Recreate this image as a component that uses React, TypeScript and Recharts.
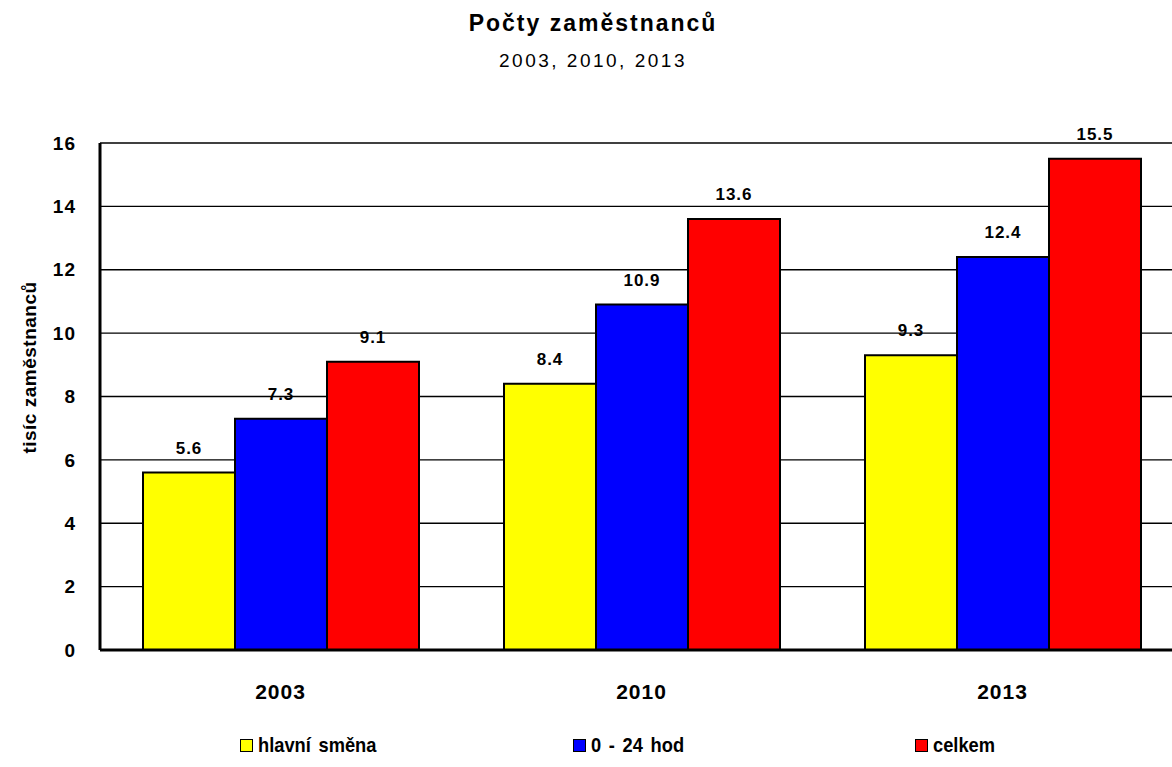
// Počty zaměstnanců — grouped bar chart, 2003 / 2010 / 2013

import { BarChart, Bar, XAxis, YAxis, CartesianGrid, Legend, LabelList } from 'recharts';

// ── Data ──────────────────────────────────────────────────────────────────────
const YEARS = ['2003', '2010', '2013'];
const HLAVNI_SMENA = [5.6, 8.4, 9.3];
const NONSTOP = [7.3, 10.9, 12.4];
const CELKEM = [9.1, 13.6, 15.5];
const Y_TICKS = [0, 2, 4, 6, 8, 10, 12, 14, 16];

const SERIES = [
  { key: 'hlavni', name: 'hlavní směna', color: '#ffff00' },
  { key: 'nonstop', name: '0 - 24 hod', color: '#0000ff' },
  { key: 'celkem', name: 'celkem', color: '#ff0000' },
];

const data = YEARS.map((year, i) => ({
  year,
  hlavni: HLAVNI_SMENA[i],
  nonstop: NONSTOP[i],
  celkem: CELKEM[i],
}));

const FONT = "Arial, 'Liberation Sans', sans-serif";

// legend item left positions (px from chart left)
const LEGEND_X = [240, 573, 915];

function ChartLegend() {
  return (
    <div style={{ position: 'relative', height: 24 }}>
      {SERIES.map((s, i) => (
        <div
          key={s.key}
          style={{
            position: 'absolute',
            left: LEGEND_X[i],
            top: 0,
            display: 'flex',
            alignItems: 'center',
            color: '#000',
            whiteSpace: 'nowrap',
          }}
        >
          <span
            style={{
              display: 'inline-block',
              width: 11,
              height: 11,
              background: s.color,
              border: '1px solid #000',
              marginRight: 5,
            }}
          />
          <span
            style={{
              display: 'inline-block',
              fontFamily: FONT,
              fontWeight: 'bold',
              fontSize: 21,
              wordSpacing: 3,
              transform: 'scaleX(0.87)',
              transformOrigin: 'left center',
            }}
          >
            {s.name}
          </span>
        </div>
      ))}
    </div>
  );
}

export default function App() {
  return (
    <div
      style={{
        position: 'absolute',
        left: 0,
        top: 0,
        width: 1172,
        height: 767,
        overflow: 'hidden',
        background: '#fff',
      }}
    >
      <div
        style={{
          position: 'absolute',
          left: 0,
          width: 1186,
          top: 10,
          textAlign: 'center',
          fontFamily: FONT,
          fontWeight: 'bold',
          fontSize: 23,
          letterSpacing: 2,
          color: '#000',
        }}
      >
        Počty zaměstnanců
      </div>
      <div
        style={{
          position: 'absolute',
          left: 0,
          width: 1186,
          top: 50,
          textAlign: 'center',
          fontFamily: FONT,
          fontSize: 19,
          letterSpacing: 2.5,
          color: '#000',
        }}
      >
        2003, 2010, 2013
      </div>

      <BarChart
        width={1192}
        height={767}
        data={data}
        margin={{ top: 143, right: 9, left: 0, bottom: 10 }}
        barCategoryGap={43}
        barGap={0}
        style={{ position: 'absolute', left: 0, top: 0 }}
      >
        <CartesianGrid vertical={false} stroke="#000" strokeWidth={1.3} />
        <XAxis
          dataKey="year"
          height={83}
          tickLine={false}
          axisLine={{ stroke: '#000', strokeWidth: 3 }}
          tick={{ fill: '#000', fontFamily: FONT, fontWeight: 'bold', fontSize: 21, letterSpacing: 1 }}
          tickMargin={28}
        />
        <YAxis
          width={100}
          domain={[0, 16]}
          ticks={Y_TICKS}
          interval={0}
          tickLine={false}
          axisLine={{ stroke: '#000', strokeWidth: 3 }}
          tick={{ fill: '#000', fontFamily: FONT, fontWeight: 'bold', fontSize: 19, letterSpacing: 1 }}
          tickMargin={18}
          label={{
            value: 'tisíc zaměstnanců',
            angle: -90,
            position: 'insideLeft',
            offset: 29,
            dy: -29,
            style: { textAnchor: 'middle', fill: '#000', fontFamily: FONT, fontWeight: 'bold', fontSize: 19, letterSpacing: 0.5 },
          }}
        />
        <Legend verticalAlign="bottom" align="left" content={() => <ChartLegend />} wrapperStyle={{ height: 24 }} />
        {SERIES.map((s) => (
          <Bar
            key={s.key}
            dataKey={s.key}
            name={s.name}
            fill={s.color}
            stroke="#000"
            strokeWidth={2}
            isAnimationActive={false}
          >
            <LabelList
              dataKey={s.key}
              position="top"
              offset={19}
              style={{ fill: '#000', fontFamily: FONT, fontWeight: 'bold', fontSize: 17, letterSpacing: 1 }}
            />
          </Bar>
        ))}
      </BarChart>
    </div>
  );
}
